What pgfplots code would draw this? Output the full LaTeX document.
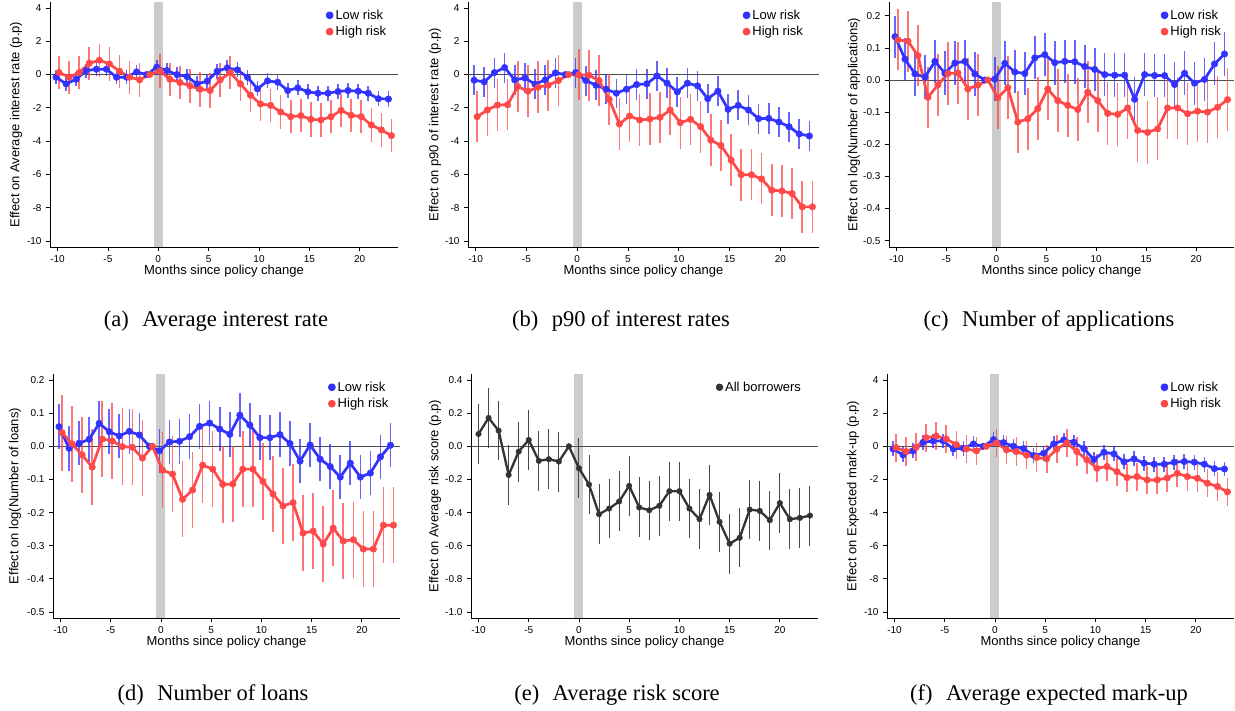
\documentclass[border=0pt]{standalone}
\usepackage{fontspec}
\setmainfont{Liberation Sans}
\newfontfamily\capserif{Liberation Serif}
\usepackage{pgfplots}
\usepackage{pgfplotstable}
\pgfplotsset{compat=1.18}

\definecolor{lowrisk}{RGB}{51,51,255}
\definecolor{highrisk}{RGB}{255,72,72}
\definecolor{allb}{RGB}{51,51,51}
\definecolor{band}{RGB}{204,204,204}

% caption font
\newcommand\capfont{\capserif\fontsize{22.5}{27}\selectfont}
\newcommand\labfont{\fontsize{13}{15}\selectfont}

% m = months since policy change; lo/hi = point estimates; loe/hie = CI half-widths
\pgfplotstableread{
m lo loe hi hie
-10 -0.16 0.42 0.12 1.0
-9 -0.56 0.42 -0.16 1.0
-8 -0.28 0.42 0.12 1.0
-7 0.24 0.42 0.68 1.0
-6 0.32 0.42 0.86 1.0
-5 0.32 0.42 0.64 1.0
-4 -0.16 0.42 0.20 1.0
-3 -0.16 0.42 -0.16 1.0
-2 0.16 0.42 -0.32 1.0
-1 0 0 0 0
0 0.44 0.45 0.22 1.0
1 0.24 0.45 -0.28 1.0
2 0.00 0.45 -0.48 1.0
3 -0.12 0.45 -0.68 1.0
4 -0.56 0.45 -0.88 1.05
5 -0.40 0.45 -0.96 1.05
6 0.20 0.45 -0.32 1.0
7 0.40 0.45 0.12 1.0
8 0.28 0.45 -0.56 1.0
9 -0.16 0.45 -1.24 1.0
10 -0.86 0.45 -1.77 1.0
11 -0.38 0.45 -1.85 1.0
12 -0.46 0.45 -2.25 1.0
13 -0.96 0.45 -2.53 1.0
14 -0.80 0.45 -2.47 1.0
15 -1.04 0.45 -2.69 1.05
16 -1.12 0.45 -2.73 1.05
17 -1.12 0.45 -2.53 1.0
18 -1.02 0.45 -2.15 1.0
19 -0.96 0.45 -2.45 1.0
20 -1.00 0.45 -2.53 1.0
21 -1.12 0.45 -3.03 1.0
22 -1.45 0.45 -3.33 1.0
23 -1.47 0.48 -3.67 1.0
}\tabAvgRate

\pgfplotstableread{
m lo loe hi hie
-10 -0.34 0.9 -2.53 1.55
-9 -0.44 0.9 -2.13 1.55
-8 0.12 0.9 -1.83 1.55
-7 0.42 0.9 -1.81 1.55
-6 -0.32 0.88 -0.72 1.55
-5 -0.20 0.9 -1.00 1.55
-4 -0.58 0.9 -0.76 1.55
-3 -0.32 0.9 -0.64 1.54
-2 0.10 0.9 -0.36 1.54
-1 0 0 0 0
0 0.12 0.9 -0.02 1.53
1 -0.36 0.9 -0.04 1.53
2 -0.64 0.9 -0.36 1.54
3 -0.88 0.91 -1.49 1.55
4 -1.12 0.88 -2.97 1.55
5 -0.88 0.91 -2.49 1.54
6 -0.60 0.91 -2.73 1.56
7 -0.56 0.91 -2.67 1.56
8 -0.08 0.9 -2.57 1.54
9 -0.52 0.9 -2.13 1.53
10 -1.04 0.9 -2.89 1.56
11 -0.52 0.9 -2.69 1.54
12 -0.68 0.9 -3.13 1.56
13 -1.45 0.88 -3.94 1.55
14 -1.00 0.9 -4.26 1.55
15 -2.09 0.9 -5.14 1.55
16 -1.85 0.9 -6.02 1.56
17 -2.13 0.92 -6.02 1.53
18 -2.65 0.9 -6.27 1.53
19 -2.63 0.92 -6.95 1.56
20 -2.85 0.88 -6.99 1.56
21 -3.13 0.9 -7.15 1.55
22 -3.57 0.9 -7.95 1.55
23 -3.69 0.9 -7.95 1.55
}\tabPninety

\pgfplotstableread{
m lo loe hi hie
-10 0.135 0.065 0.125 0.095
-9 0.065 0.066 0.121 0.095
-8 0.019 0.069 0.076 0.096
-7 0.009 0.069 -0.054 0.096
-6 0.058 0.068 -0.015 0.097
-5 0.021 0.069 0.020 0.097
-4 0.053 0.067 0.022 0.097
-3 0.058 0.068 -0.028 0.097
-2 0.019 0.069 -0.016 0.097
-1 0 0 0 0
0 0.003 0.068 -0.055 0.098
1 0.052 0.068 -0.024 0.098
2 0.025 0.067 -0.131 0.097
3 0.020 0.068 -0.121 0.096
4 0.069 0.067 -0.089 0.098
5 0.079 0.068 -0.028 0.097
6 0.054 0.068 -0.064 0.097
7 0.058 0.068 -0.079 0.097
8 0.057 0.068 -0.092 0.097
9 0.042 0.068 -0.038 0.097
10 0.033 0.068 -0.064 0.097
11 0.017 0.068 -0.104 0.097
12 0.015 0.068 -0.107 0.097
13 0.015 0.068 -0.087 0.097
14 -0.060 0.069 -0.157 0.097
15 0.017 0.068 -0.163 0.097
16 0.014 0.068 -0.152 0.098
17 0.014 0.068 -0.087 0.097
18 -0.014 0.069 -0.087 0.097
19 0.021 0.069 -0.105 0.097
20 -0.010 0.067 -0.097 0.097
21 0.002 0.068 -0.100 0.097
22 0.050 0.067 -0.085 0.097
23 0.081 0.068 -0.061 0.097
}\tabApps

\pgfplotstableread{
m lo loe hi hie
-10 0.059 0.068 0.041 0.115
-9 -0.006 0.068 0.007 0.115
-8 0.009 0.067 -0.026 0.115
-7 0.021 0.067 -0.063 0.115
-6 0.069 0.067 0.022 0.115
-5 0.044 0.067 0.016 0.115
-4 0.031 0.067 -0.001 0.115
-3 0.045 0.067 -0.003 0.115
-2 0.034 0.067 -0.036 0.115
-1 0 0 0 0
0 -0.014 0.067 -0.072 0.115
1 0.013 0.067 -0.084 0.115
2 0.015 0.067 -0.160 0.115
3 0.029 0.067 -0.132 0.115
4 0.060 0.067 -0.057 0.115
5 0.070 0.067 -0.069 0.115
6 0.052 0.067 -0.115 0.115
7 0.036 0.067 -0.114 0.115
8 0.094 0.067 -0.069 0.115
9 0.064 0.067 -0.069 0.115
10 0.026 0.067 -0.106 0.115
11 0.026 0.067 -0.144 0.115
12 0.035 0.067 -0.180 0.115
13 0.008 0.067 -0.170 0.115
14 -0.045 0.067 -0.262 0.115
15 0.004 0.067 -0.256 0.115
16 -0.039 0.067 -0.295 0.115
17 -0.061 0.067 -0.247 0.115
18 -0.093 0.067 -0.286 0.115
19 -0.051 0.067 -0.282 0.115
20 -0.093 0.067 -0.310 0.115
21 -0.081 0.067 -0.310 0.115
22 -0.032 0.067 -0.238 0.115
23 0.003 0.067 -0.238 0.115
}\tabLoans

\pgfplotstableread{
m v e
-10 0.074 0.181
-9 0.171 0.179
-8 0.094 0.179
-7 -0.173 0.181
-6 -0.032 0.181
-5 0.038 0.181
-4 -0.088 0.181
-3 -0.078 0.181
-2 -0.092 0.181
-1 0 0
0 -0.133 0.181
1 -0.231 0.179
2 -0.410 0.181
3 -0.376 0.179
4 -0.333 0.181
5 -0.239 0.181
6 -0.369 0.181
7 -0.386 0.179
8 -0.359 0.181
9 -0.271 0.179
10 -0.271 0.179
11 -0.376 0.179
12 -0.440 0.181
13 -0.293 0.181
14 -0.456 0.179
15 -0.588 0.181
16 -0.552 0.179
17 -0.382 0.179
18 -0.390 0.181
19 -0.446 0.179
20 -0.343 0.181
21 -0.440 0.181
22 -0.432 0.179
23 -0.418 0.181
}\tabRisk

\pgfplotstableread{
m lo loe hi hie
-10 -0.16 0.45 -0.08 0.85
-9 -0.52 0.45 -0.32 0.85
-8 -0.28 0.45 -0.06 0.85
-7 0.24 0.45 0.52 0.85
-6 0.32 0.45 0.62 0.85
-5 0.32 0.45 0.44 0.85
-4 -0.16 0.45 0.10 0.85
-3 -0.12 0.45 -0.16 0.85
-2 0.14 0.45 -0.28 0.85
-1 0 0 0 0
0 0.40 0.45 0.20 0.85
1 0.22 0.45 -0.22 0.85
2 0.00 0.45 -0.32 0.85
3 -0.14 0.45 -0.54 0.85
4 -0.56 0.45 -0.68 0.85
5 -0.42 0.45 -0.76 0.85
6 0.14 0.45 -0.18 0.85
7 0.38 0.45 0.20 0.85
8 0.24 0.45 -0.32 0.85
9 -0.14 0.45 -0.82 0.85
10 -0.80 0.45 -1.33 0.85
11 -0.36 0.45 -1.22 0.85
12 -0.46 0.45 -1.53 0.85
13 -0.94 0.45 -1.89 0.85
14 -0.76 0.45 -1.83 0.85
15 -1.02 0.45 -2.03 0.85
16 -1.08 0.45 -2.03 0.85
17 -1.08 0.45 -1.91 0.85
18 -0.96 0.45 -1.63 0.85
19 -0.92 0.45 -1.83 0.85
20 -0.96 0.45 -1.93 0.85
21 -1.08 0.45 -2.23 0.85
22 -1.35 0.45 -2.43 0.85
23 -1.37 0.45 -2.75 0.85
}\tabMarkup

\pgfplotsset{
  panel/.style={
    scale only axis,
    axis x line*=bottom, axis y line*=left,
    tick align=outside, major tick length=4pt,
    every tick/.style={black, line width=0.8pt},
    axis line style={line width=0.9pt},
    xmin=-10.75, xmax=23.8,
    xtick={-10,-5,0,5,10,15,20},
    xticklabels={-10,-5,0,5,10,15,20},
    ticklabel style={font=\fontsize{10}{12}\selectfont},
    xticklabel style={yshift=-1pt},
    yticklabel style={xshift=-1pt},
    xlabel={Months since policy change},
    every axis x label/.style={at={(axis description cs:0.5,0)}, yshift=-24pt,
      anchor=center, font=\labfont},
    legend style={draw=none, fill=none, anchor=north west,
      font=\labfont, inner sep=0pt, row sep=1.5pt},
    legend cell align=left,
    legend image code/.code={\fill[##1] (0pt,0pt) circle (2.5pt);},
  },
  ylab/.style={every axis y label/.style={at={(axis description cs:0,0.5)},
      xshift=#1, rotate=90, anchor=center, font=\labfont}},
  pp/.style={ymin=-10.36, ymax=4.36, ytick={-10,-8,-6,-4,-2,0,2,4},
    yticklabels={-10,-8,-6,-4,-2,0,2,4}},
  logs/.style={ytick={-0.5,-0.4,-0.3,-0.2,-0.1,0,0.1,0.2},
    yticklabels={-0.5,-0.4,-0.3,-0.2,-0.1,0.0,0.1,0.2}},
  ci/.style={draw=none, forget plot, error bars/.cd, y dir=both, y explicit,
    error mark=none, error bar style={draw=#1, line width=1.6pt, opacity=0.75}},
  est/.style={#1, line width=2.7pt, line join=round, mark=*, mark size=3.3pt,
    mark options={line width=0.4pt}},
}

% event-month band and zero reference line
\newcommand\backdrop{%
  \fill[band] ({axis cs:-0.45,0}|-{rel axis cs:0,0}) rectangle ({axis cs:0.45,0}|-{rel axis cs:0,1});
  \addplot[forget plot, black!70, line width=0.9pt] coordinates {(-10.75,0) (23.8,0)};
}
% low-risk and high-risk estimates with confidence intervals
\newcommand\riskseries[1]{%
  \addplot[ci=lowrisk] table[x expr=\thisrow{m}-0.15, y=lo, y error=loe] {#1};
  \addplot[ci=highrisk] table[x expr=\thisrow{m}+0.15, y=hi, y error=hie] {#1};
  \addplot[est=lowrisk] table[x expr=\thisrow{m}-0.15, y=lo] {#1};
  \addlegendentry{Low risk}
  \addplot[est=highrisk] table[x expr=\thisrow{m}+0.15, y=hi] {#1};
  \addlegendentry{High risk}
}

\begin{document}
\begin{tikzpicture}

% (a)
\begin{axis}[panel, pp, ylab=-34pt, at={(50pt,464pt)}, anchor=south west,
  width=348pt, height=245pt,
  ylabel={Effect on Average interest rate (p.p)},
  legend style={at={(axis description cs:0.792,0.977)}}]
  \backdrop
  \riskseries{\tabAvgRate}
\end{axis}

% (b)
\begin{axis}[panel, pp, ylab=-33pt, at={(468pt,464pt)}, anchor=south west,
  width=351pt, height=245pt,
  ylabel={Effect on p90 of interest rate (p.p)},
  legend style={at={(axis description cs:0.782,0.977)}}]
  \backdrop
  \riskseries{\tabPninety}
\end{axis}

% (c)
\begin{axis}[panel, logs, ylab=-35pt, at={(889pt,464pt)}, anchor=south west,
  width=345pt, height=245pt, ymin=-0.52, ymax=0.243,
  ylabel={Effect on log(Number of applications)},
  legend style={at={(axis description cs:0.787,0.977)}}]
  \backdrop
  \riskseries{\tabApps}
\end{axis}

% (d)
\begin{axis}[panel, logs, ylab=-38pt, at={(53pt,93pt)}, anchor=south west,
  width=347pt, height=244pt, ymin=-0.518, ymax=0.218,
  ylabel={Effect on log(Number of loans)},
  legend style={at={(axis description cs:0.792,0.977)}}]
  \backdrop
  \riskseries{\tabLoans}
\end{axis}

% (e)
\begin{axis}[panel, ylab=-36pt, at={(471pt,93pt)}, anchor=south west,
  width=347pt, height=244pt, ymin=-1.036, ymax=0.436,
  ytick={-1,-0.8,-0.6,-0.4,-0.2,0,0.2,0.4},
  yticklabels={-1.0,-0.8,-0.6,-0.4,-0.2,0.0,0.2,0.4},
  ylabel={Effect on Average risk score (p.p)},
  legend style={at={(axis description cs:0.705,0.977)}}]
  \backdrop
  \addplot[draw=none, forget plot, error bars/.cd, y dir=both, y explicit,
    error mark=none, error bar style={draw=allb, line width=1pt, opacity=0.9}]
    table[x=m, y=v, y error=e] {\tabRisk};
  \addplot[allb, line width=2.3pt, line join=round, mark=*, mark size=2.8pt,
    mark options={line width=0.4pt}] table[x=m, y=v] {\tabRisk};
  \addlegendentry{All borrowers}
\end{axis}

% (f)
\begin{axis}[panel, pp, ylab=-34pt, at={(887pt,93pt)}, anchor=south west,
  width=347pt, height=244pt,
  ylabel={Effect on Expected mark-up (p.p)},
  legend style={at={(axis description cs:0.788,0.977)}}]
  \backdrop
  \riskseries{\tabMarkup}
\end{axis}

% subfigure captions
\node[anchor=base, font=\capfont] at (216pt,384pt) {(a)\hspace{0.6em}Average interest rate};
\node[anchor=base, font=\capfont] at (621pt,384pt) {(b)\hspace{0.6em}p90 of interest rates};
\node[anchor=base, font=\capfont] at (1049pt,384pt) {(c)\hspace{0.6em}Number of applications};
\node[anchor=base, font=\capfont] at (213pt,10.5pt) {(d)\hspace{0.6em}Number of loans};
\node[anchor=base, font=\capfont] at (617pt,10.5pt) {(e)\hspace{0.6em}Average risk score};
\node[anchor=base, font=\capfont] at (1049pt,10.5pt) {(f)\hspace{0.6em}Average expected mark-up};

\pgfresetboundingbox
\path[use as bounding box] (0pt,0pt) rectangle (1235pt,711pt);
\end{tikzpicture}
\end{document}
